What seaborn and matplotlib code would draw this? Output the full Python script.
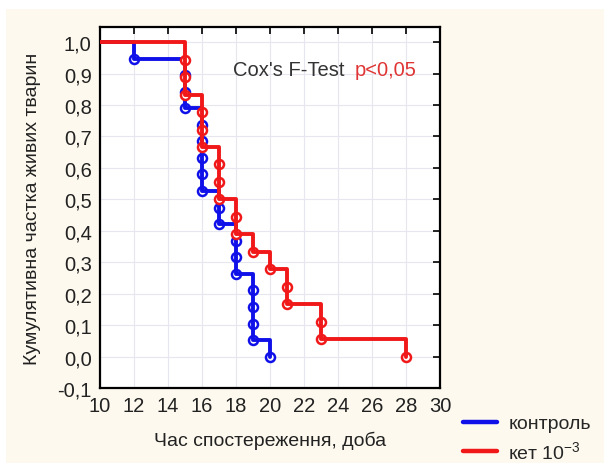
import matplotlib
matplotlib.use("Agg")
import matplotlib.pyplot as plt
from matplotlib.lines import Line2D
from matplotlib.patches import Rectangle
import seaborn as sns
import pandas as pd

# ---- data ----
ctrl_times = [10, 12, 15, 15, 15, 16, 16, 16, 16, 16, 17, 17, 18, 18, 18, 19, 19, 19, 19, 20]
ctrl_surv = [1.0, 0.947, 0.895, 0.842, 0.789, 0.737, 0.684, 0.632, 0.579, 0.526,
             0.474, 0.421, 0.368, 0.316, 0.263, 0.211, 0.158, 0.105, 0.053, 0.0]
ket_times = [10, 15, 15, 15, 16, 16, 16, 17, 17, 17, 18, 18, 19, 20, 21, 21, 23, 23, 28]
ket_surv = [1.0, 0.944, 0.889, 0.833, 0.778, 0.722, 0.667, 0.611, 0.556, 0.5,
            0.444, 0.389, 0.333, 0.278, 0.222, 0.167, 0.111, 0.056, 0.0]

x_ticks = [10, 12, 14, 16, 18, 20, 22, 24, 26, 28, 30]
y_ticks = [-0.1, 0.0, 0.1, 0.2, 0.3, 0.4, 0.5, 0.6, 0.7, 0.8, 0.9, 1.0]
y_tick_labels = ["-0,1", "0,0", "0,1", "0,2", "0,3", "0,4", "0,5", "0,6", "0,7", "0,8", "0,9", "1,0"]
series_labels = ["контроль", "кет 10$^{-3}$"]

BLUE = "#1010E8"
RED = "#F01818"

sns.set_style("white")
plt.rcParams["font.family"] = ["Liberation Sans", "DejaVu Sans"]
plt.rcParams["mathtext.fontset"] = "custom"
plt.rcParams["mathtext.rm"] = "Liberation Sans"
plt.rcParams["mathtext.it"] = "Liberation Sans"
plt.rcParams["mathtext.bf"] = "Liberation Sans"

fig = plt.figure(figsize=(6.04, 4.64), dpi=100, facecolor="white")
fig.patches.append(Rectangle((6 / 604, 0), 1, 1 - 10 / 464, transform=fig.transFigure,
                             facecolor="#FDF9EE", edgecolor="none", zorder=-10))
ax = fig.add_axes([100 / 604, 75 / 464, 340 / 604, 361 / 464])
ax.set_facecolor("white")

ctrl = pd.DataFrame({"t": ctrl_times, "s": ctrl_surv})
ket = pd.DataFrame({"t": ket_times, "s": ket_surv})

z = 3
for df, col in [(ctrl, BLUE), (ket, RED)]:
    sns.scatterplot(data=df.iloc[1:], x="t", y="s", ax=ax, marker="o", s=42,
                    facecolor="white", edgecolor=col, linewidth=1.8, zorder=z)
    sns.lineplot(data=df, x="t", y="s", ax=ax, color=col, linewidth=2.8,
                 drawstyle="steps-post", estimator=None, sort=False, zorder=z + 1)
    z += 2

ax.set_xlim(10, 30)
ax.set_ylim(-0.1, 1.048)
ax.set_xticks(x_ticks)
ax.set_xticklabels([str(v) for v in x_ticks])
ax.set_yticks(y_ticks)
ax.set_yticklabels(y_tick_labels)
ax.grid(True, color="#E6E6EE", linewidth=0.8, zorder=0)
ax.set_axisbelow(True)
ax.tick_params(direction="in", top=True, right=True, length=5, width=1.2,
               labelsize=14.5, colors="black", labelcolor="#222222", pad=6)
for sp in ax.spines.values():
    sp.set_visible(True)
    sp.set_color("black")
    sp.set_linewidth(1.6)

ax.set_xlabel("Час спостереження, доба", fontsize=14, color="#222222", labelpad=11)
ax.set_ylabel("Кумулятивна частка живих тварин", fontsize=14, color="#222222", labelpad=12)

ax.text(17.85, 0.914, "Cox's F-Test", fontsize=14.5, color="#333333", va="center", ha="left")
ax.text(25.0, 0.914, "p<0,05", fontsize=14.5, color="#E03535", va="center", ha="left")

handles = [Line2D([], [], color=BLUE, linewidth=3.2), Line2D([], [], color=RED, linewidth=3.2)]
fig.legend(handles, series_labels, loc="upper left", bbox_to_anchor=(455 / 604, 1 - 408 / 464),
           frameon=False, fontsize=14, handlelength=1.75, handletextpad=0.6,
           labelspacing=0.4, borderaxespad=0)

fig.savefig("out.png", dpi=100, facecolor=fig.get_facecolor())
